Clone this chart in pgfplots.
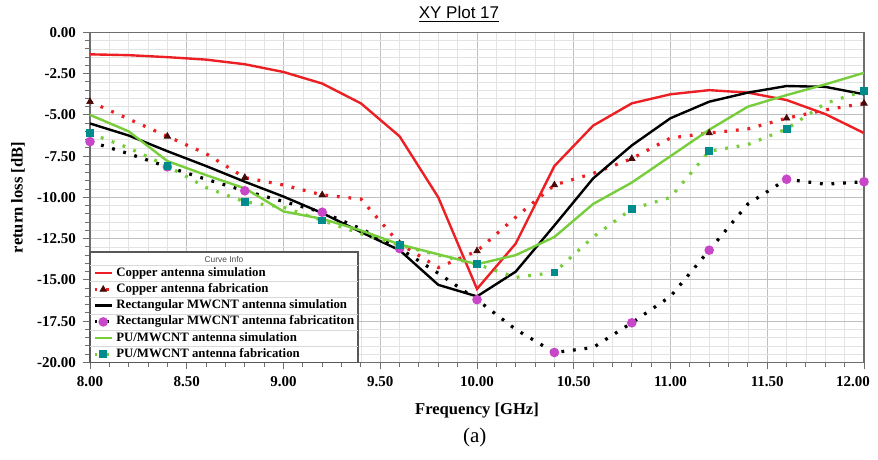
\documentclass[border=0pt]{standalone}
\usepackage{fontspec}
\setmainfont{Liberation Serif}
\newfontfamily\sans{Liberation Sans}
\usepackage{pgfplots}
\pgfplotsset{compat=1.18}

\definecolor{cured}{RGB}{236,32,36}
\definecolor{pugreen}{RGB}{120,205,60}
\definecolor{cnmag}{RGB}{200,70,200}
\definecolor{puteal}{RGB}{0,140,140}
\definecolor{tridark}{RGB}{70,10,10}
\definecolor{framegray}{RGB}{110,110,110}

% copper antenna
\pgfplotstableread{
f    sim    fab
8.0  -1.33  -4.20
8.2  -1.38  -5.25
8.4  -1.50  -6.30
8.6  -1.65  -7.35
8.8  -1.93  -8.80
9.0  -2.40  -9.25
9.2  -3.10  -9.85
9.4  -4.30  -10.10
9.6  -6.30  -12.80
9.8  -10.00 -14.25
10.0 -15.55 -13.25
10.2 -12.80 -11.20
10.4 -8.10  -9.25
10.6 -5.65  -8.55
10.8 -4.30  -7.65
11.0 -3.75  -6.40
11.2 -3.50  -6.10
11.4 -3.65  -5.85
11.6 -4.10  -5.20
11.8 -4.95  -4.70
12.0 -6.10  -4.30
}\copper

% rectangular MWCNT antenna
\pgfplotstableread{
f    sim    fab
8.0  -5.52  -6.62
8.2  -6.25  -7.35
8.4  -7.20  -8.15
8.6  -8.10  -8.90
8.8  -9.05  -9.60
9.0  -9.95  -10.25
9.2  -10.95 -10.90
9.4  -12.10 -11.90
9.6  -13.20 -13.10
9.8  -15.30 -14.60
10.0 -16.00 -16.20
10.2 -14.50 -18.00
10.4 -11.70 -19.40
10.6 -8.85  -19.10
10.8 -6.85  -17.60
11.0 -5.20  -16.00
11.2 -4.20  -13.20
11.4 -3.65  -10.40
11.6 -3.25  -8.90
11.8 -3.30  -9.20
12.0 -3.75  -9.05
}\rect

% PU/MWCNT antenna
\pgfplotstableread{
f    sim    fab
8.0  -5.00  -6.12
8.2  -6.00  -7.00
8.4  -7.80  -8.10
8.6  -8.65  -9.40
8.8  -9.45  -10.27
9.0  -10.85 -10.60
9.2  -11.30 -11.40
9.4  -12.00 -12.20
9.6  -12.85 -12.90
9.8  -13.45 -13.50
10.0 -14.05 -14.05
10.2 -13.50 -14.85
10.4 -12.40 -14.55
10.6 -10.40 -12.40
10.8 -9.10  -10.70
11.0 -7.50  -10.00
11.2 -5.90  -7.20
11.4 -4.50  -6.80
11.6 -3.80  -5.85
11.8 -3.15  -4.30
12.0 -2.45  -3.55
}\pu

\begin{document}
\begin{tikzpicture}
\begin{axis}[
  name=ax,
  scale only axis,
  width=387pt, height=165pt,
  xmin=8, xmax=12, ymin=-20, ymax=0,
  xtick={8,8.5,...,12},
  xticklabels={8.00,8.50,9.00,9.50,10.00,10.50,11.00,11.50,{12.00\hspace*{11pt}}},
  ytick={-20,-17.5,...,0},
  minor x tick num=4,
  minor y tick num=4,
  grid=both,
  major grid style={color=gray!50, line width=0.4pt},
  minor grid style={color=gray!22, line width=0.3pt},
  axis line style={framegray, line width=0.6pt},
  tick style={framegray, line width=0.5pt},
  tick align=outside,
  tick pos=left,
  major tick length=3.5pt,
  minor tick length=2.5pt,
  clip=false,
  ticklabel style={font=\fontsize{7.5}{8}\selectfont\bfseries},
  /pgf/number format/.cd, fixed, fixed zerofill, precision=2, assume math mode=true,
  /pgfplots/.cd,
  xlabel={Frequency [GHz]},
  ylabel={return loss [dB]},
  xlabel style={font=\fontsize{8.3}{9}\selectfont\bfseries, at={(rel axis cs:0.5,-0.145)}, anchor=center},
  ylabel style={font=\fontsize{8.3}{9}\selectfont\bfseries, at={(rel axis cs:-0.093,0.5)}, anchor=center, rotate=0},
  legend cell align=left,
  legend image code/.code={\draw[mark repeat=2,mark phase=2,#1] plot coordinates {(0cm,0cm) (0.15cm,0cm) (0.3cm,0cm)};},
  legend style={at={(rel axis cs:0.004,0)}, anchor=south west, draw=none, fill=none,
    inner sep=0pt, outer sep=0pt, row sep=0pt,
    font=\fontsize{6.4}{7}\selectfont\bfseries,
    nodes={inner ysep=0pt, inner xsep=1.5pt, text height=5.6pt, text depth=2.5pt}},
]
\addplot[cured, line width=1.2pt] table[x=f, y=sim] {\copper};
\addlegendentry{Copper antenna simulation}
\addplot[cured, line width=1.6pt, dash pattern=on 1.4pt off 4.4pt,
  mark=triangle*, mark repeat=2, mark size=1.9pt,
  mark options={solid, fill=tridark, draw=tridark, line width=0.3pt}] table[x=f, y=fab] {\copper};
\addlegendentry{Copper antenna fabrication}
\addplot[black, line width=1.2pt] table[x=f, y=sim] {\rect};
\addlegendentry{Rectangular MWCNT antenna simulation}
\addplot[black, line width=1.6pt, dash pattern=on 1.4pt off 4.4pt,
  mark=*, mark repeat=2, mark size=1.55pt,
  mark options={solid, fill=cnmag, draw=cnmag}] table[x=f, y=fab] {\rect};
\addlegendentry{Rectangular MWCNT antenna fabricatiton}
\addplot[pugreen, line width=1.2pt] table[x=f, y=sim] {\pu};
\addlegendentry{PU/MWCNT antenna simulation}
\addplot[pugreen, line width=1.6pt, dash pattern=on 1.4pt off 4.4pt,
  mark=square*, mark repeat=2, mark size=1.15pt,
  mark options={solid, fill=puteal, draw=puteal}] table[x=f, y=fab] {\pu};
\addlegendentry{PU/MWCNT antenna fabrication}

% legend box
\draw[draw=framegray!80!black, line width=0.8pt, fill=white] (rel axis cs:0,0) rectangle (rel axis cs:0.346,0.334);
\draw[gray!30] (rel axis cs:0,0.0489) -- (rel axis cs:0.346,0.0489);
\draw[gray!30] (rel axis cs:0,0.0979) -- (rel axis cs:0.346,0.0979);
\draw[gray!30] (rel axis cs:0,0.1468) -- (rel axis cs:0.346,0.1468);
\draw[gray!30] (rel axis cs:0,0.1958) -- (rel axis cs:0.346,0.1958);
\draw[gray!30] (rel axis cs:0,0.2447) -- (rel axis cs:0.346,0.2447);
\draw[gray!30] (rel axis cs:0,0.2936) -- (rel axis cs:0.346,0.2936);
\node[font=\sans\fontsize{4.2}{5}\selectfont, gray!60!black] at (rel axis cs:0.173,0.313) {Curve Info};

% title and caption
\node[font=\sans\fontsize{8.5}{10}\selectfont, inner sep=0pt] at (rel axis cs:0.4767,1.054) {\underline{XY Plot 17}};
\node[font=\fontsize{10.5}{12}\selectfont, inner sep=0pt] at (rel axis cs:0.497,-0.227) {(a)};

\coordinate (bl) at (rel axis cs:0,0);
\coordinate (tr) at (rel axis cs:1,1);
\end{axis}
\pgfresetboundingbox
\path ([xshift=-45pt,yshift=-48.5pt]bl) rectangle ([xshift=7pt,yshift=16.2pt]tr);
\end{tikzpicture}
\end{document}
